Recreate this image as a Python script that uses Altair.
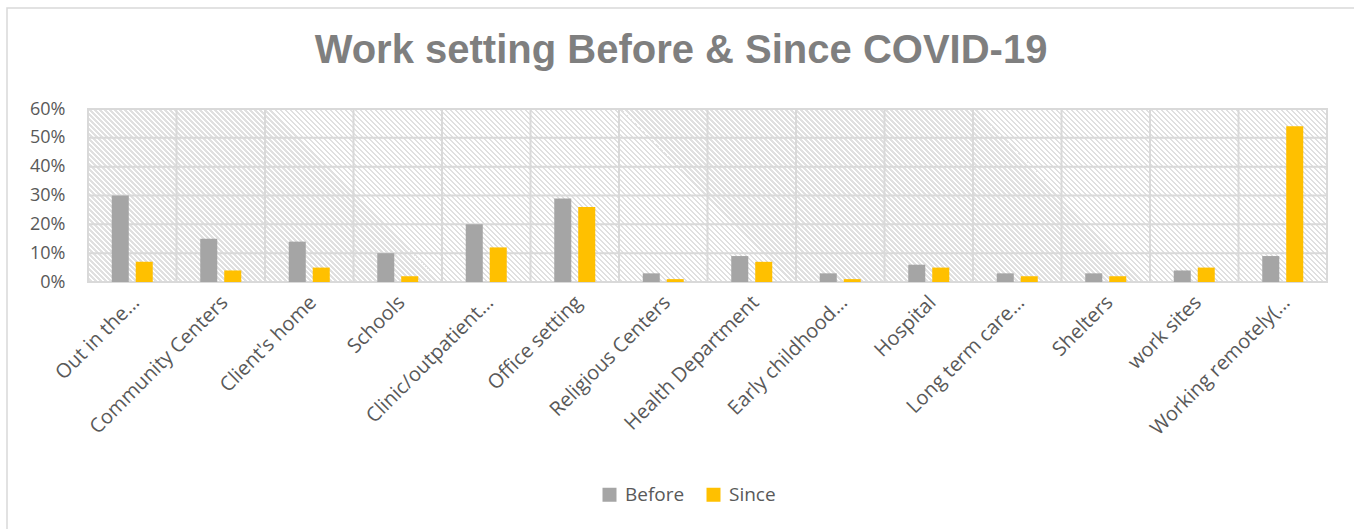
import altair as alt
import pandas as pd

# Work setting shares before and since COVID-19
categories = [
    "Out in the…", "Community Centers", "Client's home", "Schools",
    "Clinic/outpatient…", "Office setting", "Religious Centers",
    "Health Department", "Early childhood…", "Hospital",
    "Long term care…", "Shelters", "work sites", "Working remotely(…",
]
before = [0.30, 0.15, 0.14, 0.10, 0.20, 0.29, 0.03, 0.09, 0.03, 0.06, 0.03, 0.03, 0.04, 0.09]
since = [0.07, 0.04, 0.05, 0.02, 0.12, 0.26, 0.01, 0.07, 0.01, 0.05, 0.02, 0.02, 0.05, 0.54]
series = ["Before", "Since"]
series_colors = ["#A5A5A5", "#FFC000"]
y_ticks = [0.0, 0.1, 0.2, 0.3, 0.4, 0.5, 0.6]
title_text = "Work setting Before & Since COVID-19"

bars_df = pd.DataFrame(
    {
        "category": categories * 2,
        "series": ["Before"] * len(categories) + ["Since"] * len(categories),
        "value": before + since,
    }
)
cat_df = pd.DataFrame({"category": categories})
tick_df = pd.DataFrame({"value": y_ticks})
one_df = pd.DataFrame({"k": [0]})

W, H = 1239, 173
GRID = "#D9D9D9"
LABEL = "#595959"

# Diagonal hatch for the plot background, built as a striped linear gradient
r = H / W
ax = (1 + r) / (1 + r * r)
ay = -ax * r
periods = 282
frac = 0.5
stops = []
for k in range(periods):
    a = k / periods
    b = (k + frac) / periods
    c = (k + 1) / periods
    stops += [
        alt.GradientStop(offset=round(a, 6), color="#FFFFFF"),
        alt.GradientStop(offset=round(b, 6), color="#FFFFFF"),
        alt.GradientStop(offset=round(b, 6), color="#E0E0E0"),
        alt.GradientStop(offset=round(c, 6), color="#E0E0E0"),
    ]
hatch_fill = alt.LinearGradient(
    gradient="linear", stops=stops, x1=0, y1=1, x2=ax, y2=1 + ay
)

x_scale = alt.Scale(domain=categories, paddingInner=0, paddingOuter=0)
y_scale = alt.Scale(domain=[0, 0.6], nice=False)

x_axis = alt.Axis(
    title=None, labelAngle=-45, labelAlign="right", labelBaseline="middle",
    labelFont="Open Sans", labelFontSize=20, labelColor=LABEL,
    ticks=False, domain=False, grid=False, labelPadding=17, labelOffset=4,
    labelLimit=400,
)
y_axis = alt.Axis(
    title=None, values=y_ticks, format=".0%", labelFont="Open Sans",
    labelFontSize=18, labelColor=LABEL, ticks=False, domain=False,
    grid=False, labelPadding=23,
)

# outer chart frame
frame = alt.Chart(one_df).mark_rect(
    fill="#FFFFFF", fillOpacity=0, stroke=GRID, strokeWidth=1.5
).encode(
    x=alt.value(-81), x2=alt.value(1290), y=alt.value(-101), y2=alt.value(440)
)

title = alt.Chart(one_df).mark_text(
    text=title_text, font="Liberation Sans", fontSize=40, fontWeight="bold",
    color="#7F7F7F", align="center", baseline="alphabetic",
).encode(x=alt.value(593), y=alt.value(-46))

hatch = alt.Chart(one_df).mark_rect(
    fill=hatch_fill, stroke=GRID, strokeWidth=2
).encode(
    x=alt.value(0), x2=alt.value("width"), y=alt.value(0), y2=alt.value("height")
)

h_grid = alt.Chart(tick_df).mark_rule(color=GRID, strokeWidth=2).encode(
    y=alt.Y("value:Q", scale=y_scale, axis=y_axis)
)

v_grid = alt.Chart(cat_df).mark_rule(color=GRID, strokeWidth=2).encode(
    x=alt.X("category:N", sort=categories, scale=x_scale, axis=x_axis, bandPosition=0)
)

bars = alt.Chart(bars_df).mark_bar().encode(
    x=alt.X("category:N", sort=categories, scale=x_scale, axis=x_axis),
    xOffset=alt.XOffset(
        "series:N", sort=series,
        scale=alt.Scale(paddingInner=0.29, paddingOuter=0.99),
    ),
    y=alt.Y("value:Q", scale=y_scale, axis=y_axis),
    color=alt.Color(
        "series:N",
        sort=series,
        scale=alt.Scale(domain=series, range=series_colors),
        legend=alt.Legend(
            title=None, orient="none", legendX=512, legendY=376,
            direction="horizontal", symbolType="square", symbolSize=196,
            symbolStrokeWidth=0, labelFont="Open Sans", labelFontSize=19,
            labelColor=LABEL, columnPadding=19, labelOffset=6, padding=0,
        ),
    ),
)

chart = alt.layer(frame, title, hatch, h_grid, v_grid, bars).properties(
    width=W,
    height=H,
    autosize=alt.AutoSizeParams(type="none"),
    padding={"left": 88, "top": 109, "right": 27, "bottom": 247},
).configure_view(stroke=None).configure(background="#FFFFFF")

chart.save("out.html", embed_options={"renderer": "svg", "actions": False})
